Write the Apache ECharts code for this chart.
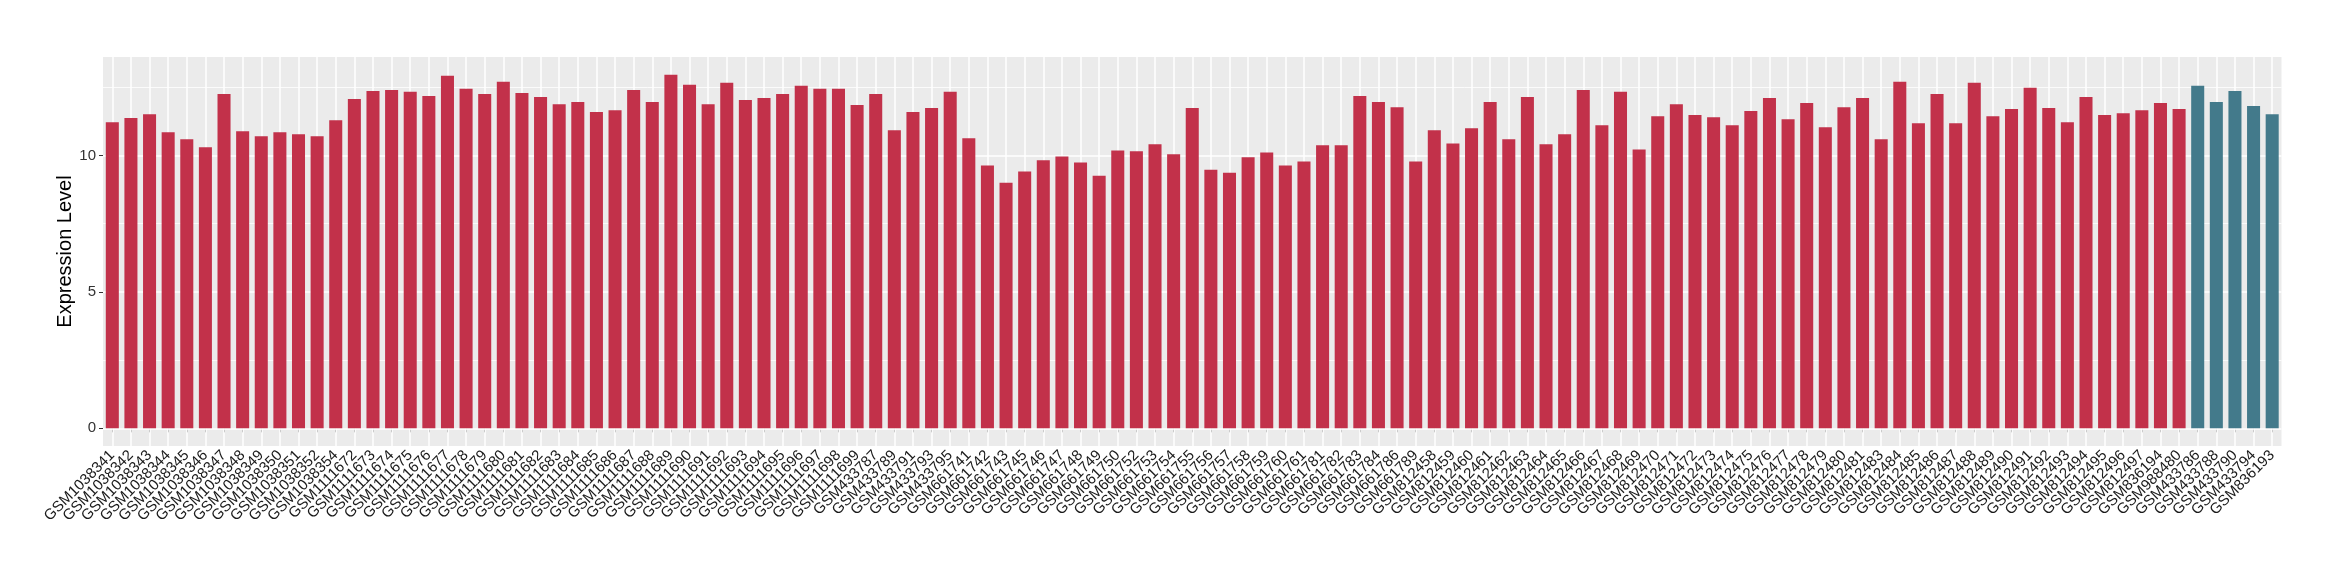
<!DOCTYPE html>
<html>
<head>
<meta charset="utf-8">
<script src="https://cdn.jsdelivr.net/npm/echarts@6/dist/echarts.min.js"></script>
<style>html,body{margin:0;padding:0;background:#fff;}#chart{width:2340px;height:580px;}</style>
</head>
<body>
<div id="chart"></div>
<script>
const categories = [
  'GSM1038341','GSM1038342','GSM1038343','GSM1038344','GSM1038345','GSM1038346','GSM1038347','GSM1038348','GSM1038349','GSM1038350','GSM1038351','GSM1038352','GSM1038354',
  'GSM1111672','GSM1111673','GSM1111674','GSM1111675','GSM1111676','GSM1111677','GSM1111678','GSM1111679','GSM1111680','GSM1111681','GSM1111682','GSM1111683','GSM1111684','GSM1111685','GSM1111686','GSM1111687','GSM1111688','GSM1111689','GSM1111690','GSM1111691','GSM1111692','GSM1111693','GSM1111694','GSM1111695','GSM1111696','GSM1111697','GSM1111698','GSM1111699',
  'GSM433787','GSM433789','GSM433791','GSM433793','GSM433795',
  'GSM661741','GSM661742','GSM661743','GSM661745','GSM661746','GSM661747','GSM661748','GSM661749','GSM661750','GSM661752','GSM661753','GSM661754','GSM661755','GSM661756','GSM661757','GSM661758','GSM661759','GSM661760','GSM661761','GSM661781','GSM661782','GSM661783','GSM661784','GSM661786','GSM661789',
  'GSM812458','GSM812459','GSM812460','GSM812461','GSM812462','GSM812463','GSM812464','GSM812465','GSM812466','GSM812467','GSM812468','GSM812469','GSM812470','GSM812471','GSM812472','GSM812473','GSM812474','GSM812475','GSM812476','GSM812477','GSM812478','GSM812479','GSM812480','GSM812481',
  'GSM812483','GSM812484','GSM812485','GSM812486','GSM812487','GSM812488','GSM812489','GSM812490','GSM812491','GSM812492','GSM812493','GSM812494','GSM812495','GSM812496','GSM812497',
  'GSM836194','GSM988480',
  'GSM433786','GSM433788','GSM433790','GSM433794','GSM836193'
];
const expression = [
  11.22,11.37,11.51,10.85,10.59,10.30,12.25,10.89,10.70,10.85,10.78,10.70,11.29,
  12.07,12.36,12.40,12.33,12.18,12.92,12.44,12.25,12.70,12.29,12.14,11.88,11.96,11.59,11.66,12.40,11.96,12.96,12.59,11.88,12.66,12.03,12.11,12.25,12.55,12.44,12.44,11.85,
  12.25,10.92,11.59,11.74,12.33,
  10.63,9.63,9.00,9.41,9.82,9.96,9.74,9.26,10.18,10.15,10.41,10.04,11.74,9.48,9.37,9.93,10.11,9.63,9.78,10.37,10.37,12.18,11.96,11.77,9.78,
  10.92,10.44,11.00,11.96,10.59,12.14,10.41,10.78,12.40,11.11,12.33,10.22,11.44,11.88,11.48,11.40,11.11,11.63,12.11,11.33,11.92,11.03,11.77,12.11,
  10.59,12.70,11.18,12.25,11.18,12.66,11.44,11.70,12.48,11.74,11.22,12.14,11.48,11.55,11.66,
  11.92,11.70,
  12.55,11.96,12.36,11.81,11.51
];
const tealSamples = ['GSM433786','GSM433788','GSM433790','GSM433794','GSM836193'];
const yTicks = [0, 5, 10];
const yMinorTicks = [2.5, 7.5, 12.5];
const yTitle = 'Expression Level';

const RED = '#C2314A', TEAL = '#437A8B';

const gridLines = [];
categories.forEach(c => gridLines.push({ xAxis: c, lineStyle: { width: 1.5 } }));
yTicks.forEach(v => gridLines.push({ yAxis: v, lineStyle: { width: 1.5 } }));
yMinorTicks.forEach(v => gridLines.push({ yAxis: v, lineStyle: { width: 0.8 } }));

const chart = echarts.init(document.getElementById('chart'));
chart.setOption({
  animation: false,
  textStyle: { fontFamily: 'Liberation Sans, Arial, sans-serif' },
  grid: { left: 103, top: 57, width: 2178.5, height: 389, show: true, backgroundColor: '#EBEBEB', borderWidth: 0 },
  xAxis: {
    type: 'category',
    data: categories,
    boundaryGap: true,
    axisLine: { show: false },
    axisTick: { show: true, alignWithLabel: true, interval: 0, length: 4, lineStyle: { color: '#333', width: 1 } },
    axisLabel: { interval: 0, rotate: 45, fontSize: 15, color: '#1a1a1a', margin: 7 },
    splitLine: { show: false }
  },
  yAxis: {
    type: 'value',
    min: -0.648,
    max: 13.608,
    name: yTitle,
    nameLocation: 'middle',
    nameGap: 28,
    nameMoveOverlap: false,
    nameRotate: 90,
    nameTextStyle: { fontSize: 20, color: '#000' },
    axisLine: { show: false },
    axisTick: { show: true, length: 4, customValues: yTicks, lineStyle: { color: '#333', width: 1 } },
    axisLabel: { customValues: yTicks, fontSize: 15, color: '#333', margin: 7 },
    splitLine: { show: false }
  },
  series: [{
    type: 'bar',
    barWidth: '70%',
    data: expression.map((v, i) => ({
      value: v,
      itemStyle: { color: tealSamples.includes(categories[i]) ? TEAL : RED }
    })),
    markLine: {
      silent: true,
      z: 1,
      symbol: ['none', 'none'],
      label: { show: false },
      emphasis: { disabled: true },
      lineStyle: { color: '#FFFFFF', type: 'solid' },
      data: gridLines
    }
  }]
});
</script>
</body>
</html>
